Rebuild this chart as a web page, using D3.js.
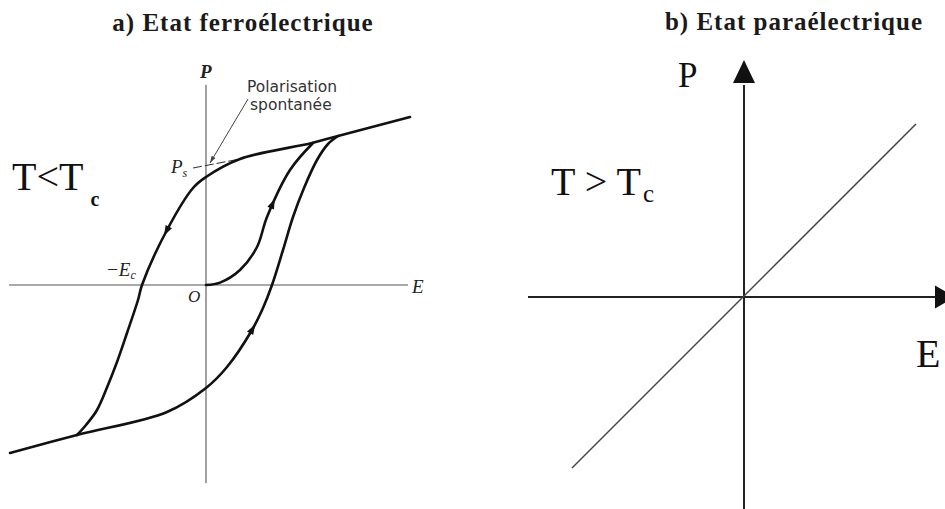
<!DOCTYPE html>
<html>
<head>
<meta charset="utf-8">
<script src="https://cdn.jsdelivr.net/npm/d3@7"></script>
<style>
  html, body { margin: 0; padding: 0; background: #fff; }
  svg { display: block; }
  .serif { font-family: "Liberation Serif", "Times New Roman", serif; }
  .sans { font-family: "DejaVu Sans", "Noto Sans", sans-serif; }
</style>
</head>
<body>
<svg id="chart" width="945" height="509"></svg>
<script>
// ---------- a) Ferroelectric state : hysteresis loop P(E) ----------
// Upper saturation line continuing into the descending branch (to -E saturation)
const descendingE = [10.2, 6.6, 5.3, 1.7, 0, -0.65, -1.95, -3.2, -3.4, -3.95, -4.45, -4.9, -5.45, -6.0, -6.45];
const descendingP = [8.4, 7.45, 7.1, 6.3, 5.4, 4.85, 2.75, 0, -0.75, -2.4, -3.85, -5.0, -6.25, -7.0, -7.5];
// Lower saturation line continuing into the ascending branch (to +E saturation)
const ascendingE = [-9.8, -6.45, -1.95, 0, 1.05, 2.3, 2.85, 3.3, 3.85, 4.35, 4.9, 5.55, 6.1, 6.6];
const ascendingP = [-8.4, -7.5, -6.35, -5.15, -4.1, -2.25, -1.15, 0, 1.75, 3.4, 4.85, 6.25, 7.05, 7.45];
// First polarisation curve starting from the origin O
const virginE = [0, 0.7, 1.7, 2.55, 3.05, 4.2, 5.35];
const virginP = [0, 0.12, 0.75, 1.9, 3.4, 5.75, 7.1];
// Direction arrows placed on the curves (curve name, E, P)
const arrowCurves = ["descending", "virgin", "ascending"];
const arrowE = [-1.95, 3.35, 2.3];
const arrowP = [2.75, 4.0, -2.25];
// Spontaneous polarisation level and its extrapolation
const PsE = [-0.65, 1.7];
const PsP = [5.85, 6.3];
const Ec = -3.2;
// Callout for "Polarisation spontanée"
const calloutE = [2.1, 0.2];
const calloutP = [9.3, 6.1];
const calloutLines = ["Polarisation", "spontanée"];

// ---------- b) Paraelectric state : linear P(E) ----------
const paraE = [-8.6, 8.6];
const paraP = [-8.55, 8.65];

const svg = d3.select("#chart");
svg.append("rect").attr("width", 945).attr("height", 509).attr("fill", "#fff");

// Scales for panel a)
const xA = d3.scaleLinear().domain([-10, 10]).range([6, 406]);
const yA = d3.scaleLinear().domain([-10, 10]).range([485, 85]);
// Scales for panel b)
const xB = d3.scaleLinear().domain([-10, 10]).range([544, 944]);
const yB = d3.scaleLinear().domain([-10, 10]).range([497, 97]);

const zip = (es, ps) => es.map((e, i) => [e, ps[i]]);

// ===== Panel a) =====
const gA = svg.append("g");

gA.append("text").attr("class", "serif")
  .attr("x", 243).attr("y", 31).attr("text-anchor", "middle")
  .attr("font-size", 25).attr("font-weight", "bold").attr("letter-spacing", 1)
  .attr("fill", "#1a1a1a").text("a) Etat ferroélectrique");

// Axes (plain thin lines through the origin)
gA.append("line")
  .attr("x1", xA(-9.85)).attr("x2", xA(10.1))
  .attr("y1", yA(0)).attr("y2", yA(0))
  .attr("stroke", "#555").attr("stroke-width", 1.1);
gA.append("line")
  .attr("x1", xA(0)).attr("x2", xA(0))
  .attr("y1", yA(10)).attr("y2", yA(-9.9))
  .attr("stroke", "#555").attr("stroke-width", 1.1);

// Ps extrapolation (dashed)
gA.append("path")
  .attr("d", d3.line().x(d => xA(d[0])).y(d => yA(d[1]))(zip(PsE, PsP)))
  .attr("fill", "none").attr("stroke", "#333").attr("stroke-width", 1.1)
  .attr("stroke-dasharray", "9,3");

const lineA = d3.line().x(d => xA(d[0])).y(d => yA(d[1])).curve(d3.curveCatmullRom.alpha(0.5));
const curves = {
  descending: zip(descendingE, descendingP),
  ascending: zip(ascendingE, ascendingP),
  virgin: zip(virginE, virginP)
};
const curvePaths = {};
Object.keys(curves).forEach(k => {
  curvePaths[k] = gA.append("path")
    .attr("d", lineA(curves[k]))
    .attr("fill", "none").attr("stroke", "#111")
    .attr("stroke-width", 2.6).attr("stroke-linejoin", "round").attr("stroke-linecap", "round");
});

// Arrow heads along the curves, oriented by the local tangent
arrowCurves.forEach((name, i) => {
  const node = curvePaths[name].node();
  const len = node.getTotalLength();
  const tx = xA(arrowE[i]), ty = yA(arrowP[i]);
  let best = 0, bestD = Infinity;
  for (let s = 0; s <= len; s += 0.5) {
    const p = node.getPointAtLength(s);
    const d = (p.x - tx) ** 2 + (p.y - ty) ** 2;
    if (d < bestD) { bestD = d; best = s; }
  }
  const p0 = node.getPointAtLength(Math.max(0, best - 2));
  const p1 = node.getPointAtLength(Math.min(len, best + 2));
  const ang = Math.atan2(p1.y - p0.y, p1.x - p0.x) * 180 / Math.PI;
  const c = node.getPointAtLength(best);
  gA.append("path")
    .attr("d", "M6,0 L-4,-3.6 L-4,3.6 Z")
    .attr("transform", `translate(${c.x},${c.y}) rotate(${ang})`)
    .attr("fill", "#111");
});

// Callout line with small arrow head
const cx0 = xA(calloutE[0]), cy0 = yA(calloutP[0]);
const cx1 = xA(calloutE[1]), cy1 = yA(calloutP[1]);
gA.append("line")
  .attr("x1", cx0).attr("y1", cy0).attr("x2", cx1).attr("y2", cy1)
  .attr("stroke", "#444").attr("stroke-width", 1);
const cang = Math.atan2(cy1 - cy0, cx1 - cx0) * 180 / Math.PI;
gA.append("path")
  .attr("d", "M0,0 L-7,-2.2 L-7,2.2 Z")
  .attr("transform", `translate(${cx1},${cy1}) rotate(${cang})`)
  .attr("fill", "#444");
gA.append("text").attr("class", "sans")
  .attr("x", 247).attr("y", 92).attr("font-size", 15.5).attr("fill", "#333")
  .text(calloutLines[0]);
gA.append("text").attr("class", "sans")
  .attr("x", 250).attr("y", 110).attr("font-size", 15.5).attr("fill", "#333")
  .text(calloutLines[1]);

// Axis labels
gA.append("text").attr("class", "serif")
  .attr("x", xA(0) - 6).attr("y", 78).attr("font-size", 19).attr("font-style", "italic")
  .attr("font-weight", "bold").attr("fill", "#222").text("P");
gA.append("text").attr("class", "serif")
  .attr("x", 412).attr("y", 293).attr("font-size", 19).attr("font-style", "italic")
  .attr("fill", "#222").text("E");
gA.append("text").attr("class", "serif")
  .attr("x", 188).attr("y", 302).attr("font-size", 17).attr("font-style", "italic")
  .attr("fill", "#222").text("O");
const ecT = gA.append("text").attr("class", "serif")
  .attr("x", xA(Ec) - 36).attr("y", 276).attr("font-size", 19).attr("font-style", "italic")
  .attr("fill", "#222");
ecT.append("tspan").text("−E");
ecT.append("tspan").attr("font-size", 12).attr("dy", 3).text("c");
const psT = gA.append("text").attr("class", "serif")
  .attr("x", 171).attr("y", 173).attr("font-size", 19).attr("font-style", "italic")
  .attr("fill", "#222");
psT.append("tspan").text("P");
psT.append("tspan").attr("font-size", 12).attr("dy", 4).text("s");

// Temperature condition
const tA = gA.append("text").attr("class", "serif")
  .attr("x", 12).attr("y", 190).attr("font-size", 40).attr("fill", "#111");
tA.append("tspan").text("T<T");
tA.append("tspan").attr("font-size", 20).attr("font-weight", "bold").attr("dx", 7).attr("dy", 16).text("c");

// ===== Panel b) =====
const gB = svg.append("g");

gB.append("text").attr("class", "serif")
  .attr("x", 794).attr("y", 30).attr("text-anchor", "middle")
  .attr("font-size", 25).attr("font-weight", "bold").attr("letter-spacing", 1)
  .attr("fill", "#1a1a1a").text("b) Etat paraélectrique");

// E axis with arrow
gB.append("line")
  .attr("x1", xB(-10.8)).attr("x2", xB(9.6))
  .attr("y1", yB(0)).attr("y2", yB(0))
  .attr("stroke", "#222").attr("stroke-width", 2);
gB.append("path")
  .attr("d", `M${xB(9.55)},${yB(0) - 11.5} L${xB(10.55)},${yB(0)} L${xB(9.55)},${yB(0) + 11.5} Z`)
  .attr("fill", "#111");
// P axis with arrow
gB.append("line")
  .attr("x1", xB(0)).attr("x2", xB(0))
  .attr("y1", yB(-10.7)).attr("y2", yB(10.6))
  .attr("stroke", "#222").attr("stroke-width", 2);
gB.append("path")
  .attr("d", `M${xB(0) - 11},${yB(10.7)} L${xB(0)},${yB(11.85)} L${xB(0) + 11},${yB(10.7)} Z`)
  .attr("fill", "#111");

// Linear response P = chi E
gB.append("path")
  .attr("d", d3.line().x(d => xB(d[0])).y(d => yB(d[1]))(zip(paraE, paraP)))
  .attr("fill", "none").attr("stroke", "#444").attr("stroke-width", 1.5);

// Labels
gB.append("text").attr("class", "serif")
  .attr("x", 678).attr("y", 87).attr("font-size", 35).attr("fill", "#111").text("P");
gB.append("text").attr("class", "serif")
  .attr("x", 916).attr("y", 367).attr("font-size", 40).attr("fill", "#111").text("E");
const tB = gB.append("text").attr("class", "serif")
  .attr("x", 551).attr("y", 195).attr("font-size", 40).attr("fill", "#111");
tB.append("tspan").text("T > T");
tB.append("tspan").attr("font-size", 25).attr("dx", 2).attr("dy", 7).text("c");
</script>
</body>
</html>
